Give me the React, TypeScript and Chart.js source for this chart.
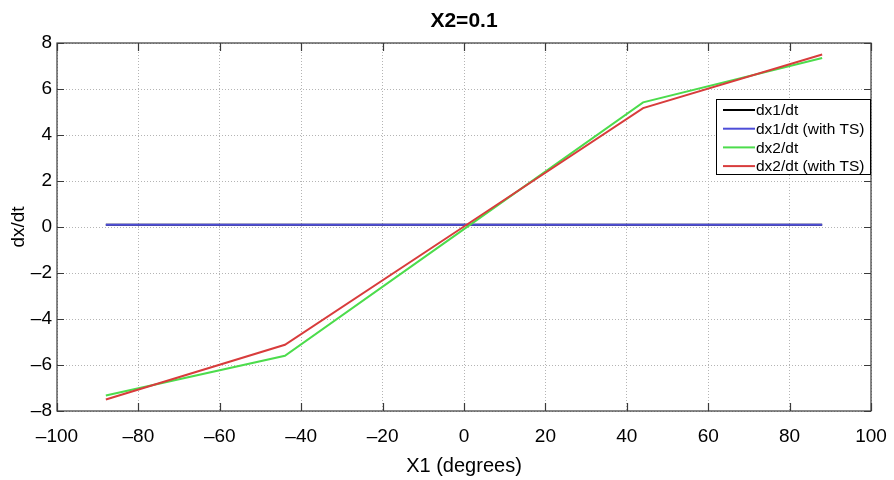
import React, { useEffect, useRef } from "react";
import { Chart, registerables } from "chart.js";

Chart.register(...registerables);

const xValues = [-88, -44, 0, 44, 88];
const dx1 = [0.1, 0.1, 0.1, 0.1, 0.1];
const dx1TS = [0.1, 0.1, 0.1, 0.1, 0.1];
const dx2 = [-7.33, -5.6, -0.09, 5.42, 7.35];
const dx2TS = [-7.5, -5.12, 0.02, 5.17, 7.5];

const seriesNames = ["dx1/dt", "dx1/dt (with TS)", "dx2/dt", "dx2/dt (with TS)"];
const seriesColors = ["#000000", "#4d4dd8", "#4cdc4c", "#d83c3c"];

const titleText = "X2=0.1";
const xTitle = "X1 (degrees)";
const yTitle = "dx/dt";

const FONT = "'Liberation Sans', Arial, Helvetica, sans-serif";

const toPts = (ys: number[]) => xValues.map((x, i) => ({ x, y: ys[i] }));

const fmt = (v: number) => (v < 0 ? "\u2013" + Math.abs(v) : String(v));

const decorPlugin = {
  id: "decor",
  afterDraw(chart: any) {
    const { ctx, chartArea } = chart;
    const { left, right, top, bottom } = chartArea;
    const xs = chart.scales.x;
    const ys = chart.scales.y;
    ctx.save();
    // box
    ctx.strokeStyle = "#3a3a3a";
    ctx.lineWidth = 1.2;
    ctx.strokeRect(left, top, right - left, bottom - top);
    // inward ticks
    ctx.beginPath();
    xs.ticks.forEach((t: any) => {
      const px = Math.round(xs.getPixelForValue(t.value)) + 0.5;
      ctx.moveTo(px, bottom);
      ctx.lineTo(px, bottom - 8);
      ctx.moveTo(px, top);
      ctx.lineTo(px, top + 8);
    });
    ys.ticks.forEach((t: any) => {
      const py = Math.round(ys.getPixelForValue(t.value)) + 0.5;
      ctx.moveTo(left, py);
      ctx.lineTo(left + 7, py);
      ctx.moveTo(right, py);
      ctx.lineTo(right - 7, py);
    });
    ctx.stroke();

    // title
    ctx.fillStyle = "#000";
    ctx.textAlign = "center";
    ctx.textBaseline = "middle";
    ctx.font = `bold 21px ${FONT}`;
    ctx.fillText(titleText, (left + right) / 2, 21);
    // x title
    ctx.font = `20px ${FONT}`;
    ctx.fillText(xTitle, (left + right) / 2, 466);
    // y title
    ctx.save();
    ctx.translate(19, (top + bottom) / 2);
    ctx.rotate(-Math.PI / 2);
    ctx.font = `19px ${FONT}`;
    ctx.fillText(yTitle, 0, 0);
    ctx.restore();

    // legend
    const lx = 716, ly = 99, lw = right - 716, lh = 76;
    ctx.fillStyle = "#fff";
    ctx.fillRect(lx, ly, lw, lh);
    ctx.strokeStyle = "#000";
    ctx.lineWidth = 1;
    ctx.strokeRect(lx + 0.5, ly + 0.5, lw - 1, lh - 1);
    ctx.font = `15.5px ${FONT}`;
    ctx.textAlign = "left";
    ctx.textBaseline = "middle";
    seriesNames.forEach((name, i) => {
      const yy = ly + 11 + i * 18.7;
      ctx.strokeStyle = seriesColors[i];
      ctx.lineWidth = 2;
      ctx.beginPath();
      ctx.moveTo(lx + 7, yy);
      ctx.lineTo(lx + 39, yy);
      ctx.stroke();
      ctx.fillStyle = "#000";
      ctx.fillText(name, lx + 40, yy + 1);
    });
    ctx.restore();
  },
};

export default function App() {
  const ref = useRef<HTMLCanvasElement | null>(null);
  useEffect(() => {
    document.body.style.margin = "0";
    const canvas = ref.current!;
    const data = [dx1, dx1TS, dx2, dx2TS];
    const chart = new Chart(canvas, {
      type: "line",
      data: {
        datasets: data.map((ys, i) => ({
          label: seriesNames[i],
          data: toPts(ys),
          borderColor: seriesColors[i],
          backgroundColor: seriesColors[i],
          borderWidth: 2,
          pointRadius: 0,
          tension: 0,
          fill: false,
          order: 4 - i,
        })),
      },
      options: {
        animation: false,
        responsive: false,
        layout: { padding: { left: 0, right: 23, top: 43, bottom: 0 } },
        plugins: {
          legend: { display: false },
          title: { display: false },
          tooltip: { enabled: false },
        },
        scales: {
          x: {
            type: "linear",
            min: -100,
            max: 100,
            afterFit: (s: any) => {
              s.height = 69;
              s.paddingLeft = 0;
              s.paddingRight = 0;
            },
            ticks: {
              stepSize: 20,
              padding: 14,
              color: "#000",
              font: { family: FONT, size: 19 },
              callback: (v: any) => fmt(Number(v)),
              maxRotation: 0,
              autoSkip: false,
            },
            grid: { color: "#b4b4b4", drawTicks: false, lineWidth: 1 },
            border: { display: false, dash: [1, 2] },
          },
          y: {
            type: "linear",
            min: -8,
            max: 8,
            afterFit: (s: any) => {
              s.width = 57;
              s.paddingTop = 0;
              s.paddingBottom = 0;
            },
            ticks: {
              stepSize: 2,
              padding: 5,
              color: "#000",
              font: { family: FONT, size: 19 },
              callback: (v: any) => fmt(Number(v)),
              autoSkip: false,
            },
            grid: { color: "#b4b4b4", drawTicks: false, lineWidth: 1 },
            border: { display: false, dash: [1, 2] },
          },
        },
      },
      plugins: [decorPlugin],
    });
    return () => chart.destroy();
  }, []);
  return (
    <div style={{ width: 894, height: 480 }}>
      <canvas ref={ref} width={894} height={480} />
    </div>
  );
}
